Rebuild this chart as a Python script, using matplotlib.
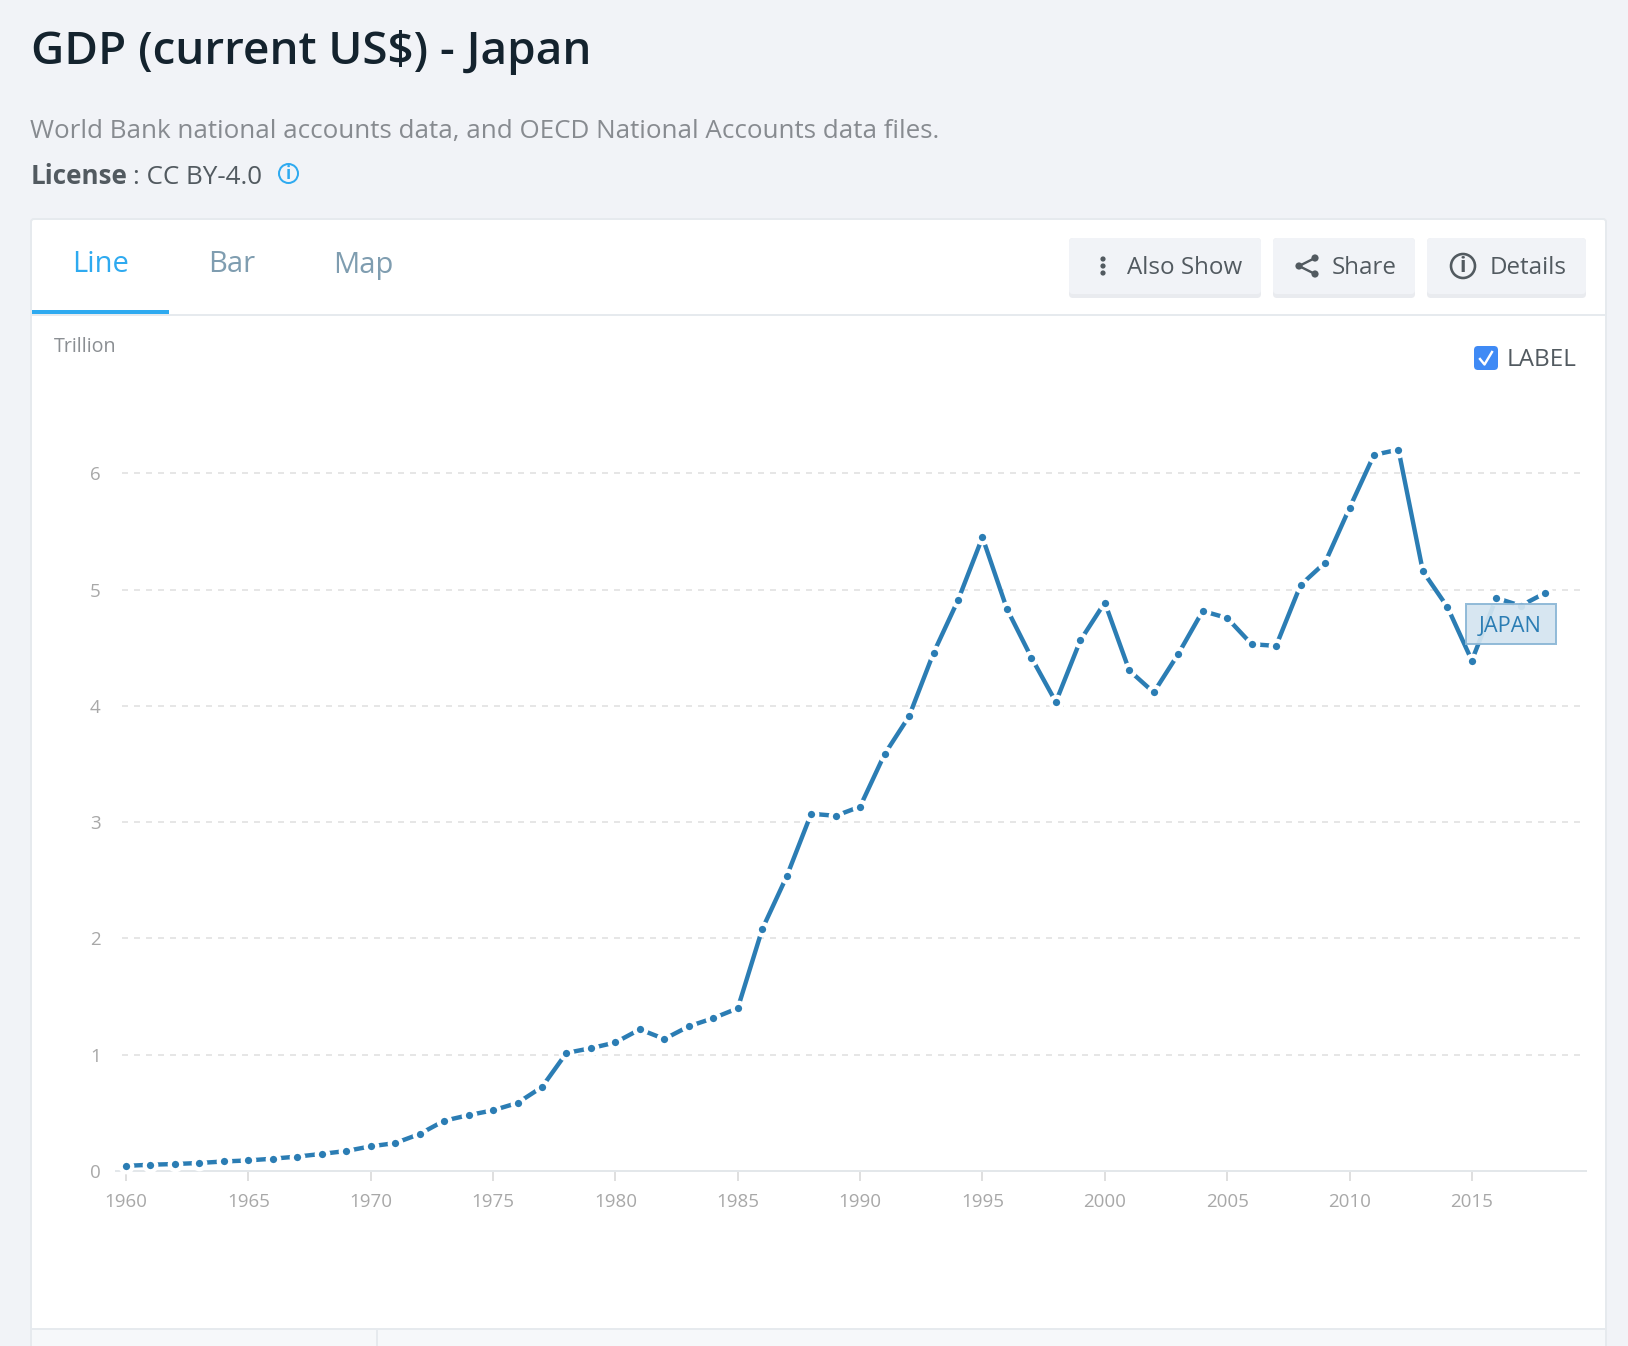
import matplotlib
matplotlib.use('Agg')
import matplotlib.pyplot as plt
from matplotlib.patches import Rectangle, FancyBboxPatch, Circle

plt.rcParams['font.family'] = ['Open Sans', 'DejaVu Sans']

# data (trillion US$)
years = list(range(1960, 2019))
gdp = [0.044, 0.054, 0.060, 0.069, 0.082, 0.091, 0.106, 0.124, 0.147, 0.172,
       0.212, 0.240, 0.318, 0.432, 0.480, 0.522, 0.585, 0.722, 1.015, 1.056,
       1.105, 1.218, 1.135, 1.244, 1.314, 1.399, 2.079, 2.533, 3.072, 3.054,
       3.133, 3.584, 3.909, 4.454, 4.907, 5.449, 4.833, 4.415, 4.033, 4.562,
       4.888, 4.304, 4.115, 4.445, 4.815, 4.755, 4.530, 4.515, 5.038, 5.231,
       5.700, 6.157, 6.203, 5.156, 4.850, 4.389, 4.927, 4.860, 4.971]
x_ticks = list(range(1960, 2016, 5))
y_ticks = [0, 1, 2, 3, 4, 5, 6]

W, H = 1628, 1346
blue = '#2b7db4'
tab_blue = '#2eaaf0'
dark = '#525a60'
PX = 72 / 100  # one pixel in points

fig = plt.figure(figsize=(W / 100, H / 100), dpi=100, facecolor='#f1f3f7')

# page chrome, in pixel coordinates
bg = fig.add_axes([0, 0, 1, 1])
bg.set_xlim(0, W)
bg.set_ylim(H, 0)
bg.axis('off')

bg.add_patch(FancyBboxPatch((31, 219), 1575, 1140, boxstyle='round,pad=0,rounding_size=3',
                            fc='white', ec='#e6eaee', lw=2 * PX))
bg.add_patch(Rectangle((32, 1330), 1573, 16, fc='#f6f8fa', ec='none'))
bg.plot([31, 1606], [1329, 1329], color='#e6eaee', lw=2 * PX)
bg.plot([377, 377], [1329, 1346], color='#e6eaee', lw=2 * PX)
bg.plot([32, 1606], [315, 315], color='#e6eaee', lw=2 * PX)
bg.add_patch(Rectangle((32, 310), 137, 4, fc=tab_blue, ec='none', zorder=3))

bg.text(31, 64, 'GDP (current US$) - Japan', fontsize=33, fontweight='semibold',
        color='#14232e', va='baseline')
bg.text(30, 138, 'World Bank national accounts data, and OECD National Accounts data files.',
        fontsize=18.7, color='#878b90', va='baseline')
bg.text(31, 184, 'License', fontsize=18.7, fontweight='bold', color=dark, va='baseline')
bg.text(133, 184, ': CC BY-4.0', fontsize=18.7, color=dark, va='baseline')
bg.add_patch(Circle((288.5, 173.5), 9.5, fc='none', ec=tab_blue, lw=2 * PX))
bg.text(288.5, 174, 'i', fontsize=12, fontweight='bold', color=tab_blue, ha='center', va='center')

bg.text(100.5, 265, 'Line', fontsize=21, fontweight='medium', color=tab_blue, ha='center', va='center')
bg.text(231.5, 265, 'Bar', fontsize=21, color='#7f9db0', ha='center', va='center')
bg.text(363, 265, 'Map', fontsize=21, color='#7f9db0', ha='center', va='center')

# buttons
for x0, x1 in [(1069, 1261), (1273, 1415), (1427, 1586)]:
    bg.add_patch(FancyBboxPatch((x0, 238), x1 - x0, 60, boxstyle='round,pad=0,rounding_size=4',
                                fc='#e9ebef', ec='none'))
    bg.add_patch(FancyBboxPatch((x0, 238), x1 - x0, 56, boxstyle='round,pad=0,rounding_size=4',
                                fc='#f1f3f7', ec='none'))
bg.text(1127, 268, 'Also Show', fontsize=17.4, color=dark, va='center')
bg.text(1332, 268, 'Share', fontsize=17.4, color=dark, va='center')
bg.text(1490, 268, 'Details', fontsize=17.4, color=dark, va='center')

for yy in (259, 266, 273):
    bg.add_patch(Circle((1103, yy), 2.6, fc=dark, ec='none'))
bg.plot([1315, 1299, 1315], [258, 266, 274], color=dark, lw=2.4 * PX)
for cx, cy in [(1315, 258), (1299, 266), (1315, 274)]:
    bg.add_patch(Circle((cx, cy), 3.6, fc=dark, ec='none'))
bg.add_patch(Circle((1463, 266), 12, fc='none', ec=dark, lw=2.6 * PX))
bg.text(1463, 267, 'i', fontsize=15, fontweight='bold', color=dark, ha='center', va='center')

# label checkbox
bg.add_patch(FancyBboxPatch((1474, 346), 24, 24, boxstyle='round,pad=0,rounding_size=4',
                            fc='#3f8af5', ec='none'))
bg.plot([1480, 1484.5, 1492], [359, 364.5, 352], color='white', lw=2.4 * PX)
bg.text(1507, 360, 'LABEL', fontsize=17.5, color=dark, va='center')
bg.text(54, 347, 'Trillion', fontsize=14.2, color='#8b8f93', va='center')

# chart area, 24.47 px per year and 116.3 px per trillion
left, right, bottom, top = 116, 1586, 1171, 400
ax = fig.add_axes([left / W, 1 - bottom / H, (right - left) / W, (bottom - top) / H])
ax.patch.set_alpha(0)
ax.set_xlim(1960 - 10 / 24.47, 1960 + (right - 126) / 24.47)
ax.set_ylim(0, (bottom - top) / 116.3)

for s in ['top', 'right', 'left']:
    ax.spines[s].set_visible(False)
ax.spines['bottom'].set_color('#e3e7ea')
ax.spines['bottom'].set_linewidth(2 * PX)

ax.yaxis.grid(True, color='#e6e6e6', linewidth=2 * PX, linestyle=(3, (3, 3)))
ax.set_axisbelow(True)
ax.set_xticks(x_ticks)
ax.set_yticks(y_ticks)
ax.tick_params(axis='x', length=7, width=1.5 * PX, color='#d5d5d5', labelcolor='#a8a8a8',
               labelsize=13.5, pad=9)
ax.tick_params(axis='y', length=0, labelcolor='#a8a8a8', labelsize=13.5, pad=11)

ax.plot(years, gdp, color=blue, linewidth=4.4 * PX, marker='o', markersize=11.5 * PX,
        markerfacecolor=blue, markeredgecolor='white', markeredgewidth=4.2 * PX,
        clip_on=False, zorder=3)

# series label sits on top of the line
bg2 = fig.add_axes([0, 0, 1, 1])
bg2.set_xlim(0, W)
bg2.set_ylim(H, 0)
bg2.axis('off')
bg2.add_patch(Rectangle((1466, 604), 90, 40, fc='#d4e5f0', ec='#8cb7d6', lw=2 * PX, alpha=0.93))
bg2.text(1510, 626, 'JAPAN', fontsize=15.7, color=blue, ha='center', va='center')

fig.savefig('out.png', dpi=100, facecolor=fig.get_facecolor())
